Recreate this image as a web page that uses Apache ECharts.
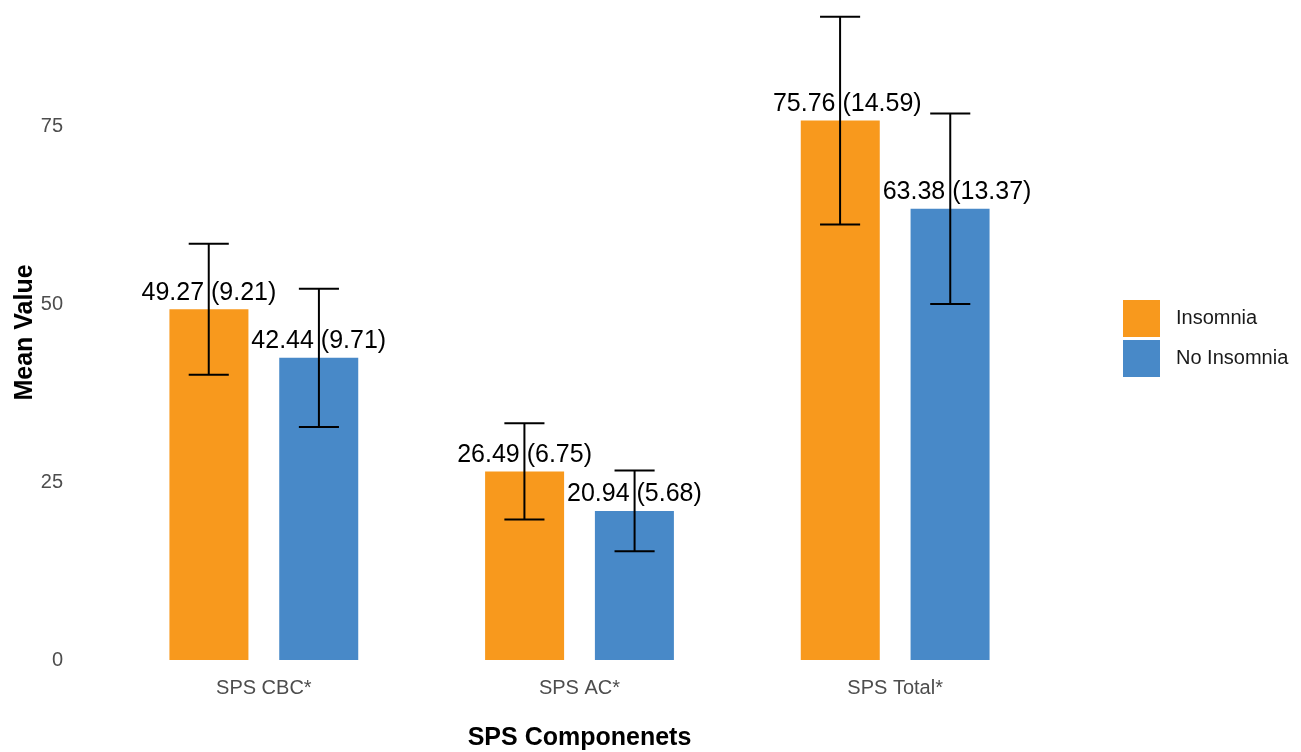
<!DOCTYPE html>
<html>
<head>
<meta charset="utf-8">
<script src="https://cdn.jsdelivr.net/npm/echarts@6/dist/echarts.min.js"></script>
<style>
html,body{margin:0;padding:0;background:#fff;overflow:hidden;width:100%;height:100%;}
#chart{width:100vw;height:100vh;}
</style>
</head>
<body>
<div id="chart"></div>
<script>
const categories = ['SPS CBC*', 'SPS AC*', 'SPS Total*'];
const groups = ['Insomnia', 'No Insomnia'];
const insomniaMean = [49.27, 26.49, 75.76];
const insomniaSD = [9.21, 6.75, 14.59];
const noInsomniaMean = [42.44, 20.94, 63.38];
const noInsomniaSD = [9.71, 5.68, 13.37];
const yTicks = [0, 25, 50, 75];

const colors = ['#F8991D', '#4889C8'];
const FONT = '"Liberation Sans", Arial, sans-serif';

const chart = echarts.init(document.getElementById('chart'));

function barSeries(name, means, sds, color) {
  return {
    name: name,
    type: 'bar',
    data: means.map((m, i) => ({
      value: m,
      label: { offset: [sds[i] >= 10 ? 7 : 0, 0] }
    })),
    barWidth: 79,
    barGap: '39%',
    itemStyle: { color: color },
    label: {
      show: true,
      position: 'top',
      distance: 4,
      fontFamily: FONT,
      fontSize: 25,
      color: '#000',
      formatter: p => means[p.dataIndex].toFixed(2) + ' (' + sds[p.dataIndex].toFixed(2) + ')'
    },
    z: 2
  };
}

function errSeries(means, sds, side) {
  const data = means.map((m, i) => [i, m - sds[i], m + sds[i]]);
  return {
    type: 'custom',
    data: data,
    z: 5,
    silent: true,
    renderItem: function (params, api) {
      const idx = api.value(0);
      const lo = api.coord([idx, api.value(1)]);
      const hi = api.coord([idx, api.value(2)]);
      const band = api.size([1, 0])[0];
      const x = lo[0] + side * 0.1745 * band;
      const half = 0.0635 * band;
      const style = { stroke: '#000', lineWidth: 2 };
      return {
        type: 'group',
        children: [
          { type: 'line', shape: { x1: x, y1: lo[1], x2: x, y2: hi[1] }, style: style },
          { type: 'line', shape: { x1: x - half, y1: lo[1], x2: x + half, y2: lo[1] }, style: style },
          { type: 'line', shape: { x1: x - half, y1: hi[1], x2: x + half, y2: hi[1] }, style: style }
        ]
      };
    }
  };
}

const option = {
  backgroundColor: '#fff',
  animation: false,
  textStyle: { fontFamily: FONT },
  grid: { left: 106, right: 248, top: 5, bottom: 92, containLabel: false, outerBoundsMode: 'none' },
  legend: {
    data: groups,
    orient: 'vertical',
    left: 1118,
    top: 295,
    icon: 'rect',
    itemWidth: 37,
    itemHeight: 37,
    itemGap: 3,
    textStyle: { fontFamily: FONT, fontSize: 20, color: '#1a1a1a', padding: [0, 0, 0, 11] }
  },
  xAxis: {
    type: 'category',
    data: categories,
    axisLine: { show: false },
    axisTick: { show: false },
    splitLine: { show: false },
    axisLabel: { fontFamily: FONT, fontSize: 20, color: '#4d4d4d', margin: 18 },
    name: 'SPS Componenets',
    nameLocation: 'middle',
    nameGap: 66,
    nameMoveOverlap: false,
    nameTextStyle: { fontFamily: FONT, fontSize: 25, fontWeight: 'bold', color: '#000' }
  },
  yAxis: {
    type: 'value',
    min: 0,
    max: 92,
    interval: 25,
    axisLine: { show: false },
    axisTick: { show: false },
    splitLine: { show: false },
    axisLabel: {
      fontFamily: FONT, fontSize: 20, color: '#4d4d4d', margin: 43,
      showMaxLabel: false,
      formatter: v => yTicks.indexOf(v) >= 0 ? String(v) : ''
    },
    name: 'Mean Value',
    nameLocation: 'middle',
    nameGap: 68,
    nameMoveOverlap: false,
    nameTextStyle: { fontFamily: FONT, fontSize: 25, fontWeight: 'bold', color: '#000' }
  },
  series: [
    barSeries(groups[0], insomniaMean, insomniaSD, colors[0]),
    barSeries(groups[1], noInsomniaMean, noInsomniaSD, colors[1]),
    errSeries(insomniaMean, insomniaSD, -1),
    errSeries(noInsomniaMean, noInsomniaSD, 1)
  ]
};
chart.setOption(option);
</script>
</body>
</html>
